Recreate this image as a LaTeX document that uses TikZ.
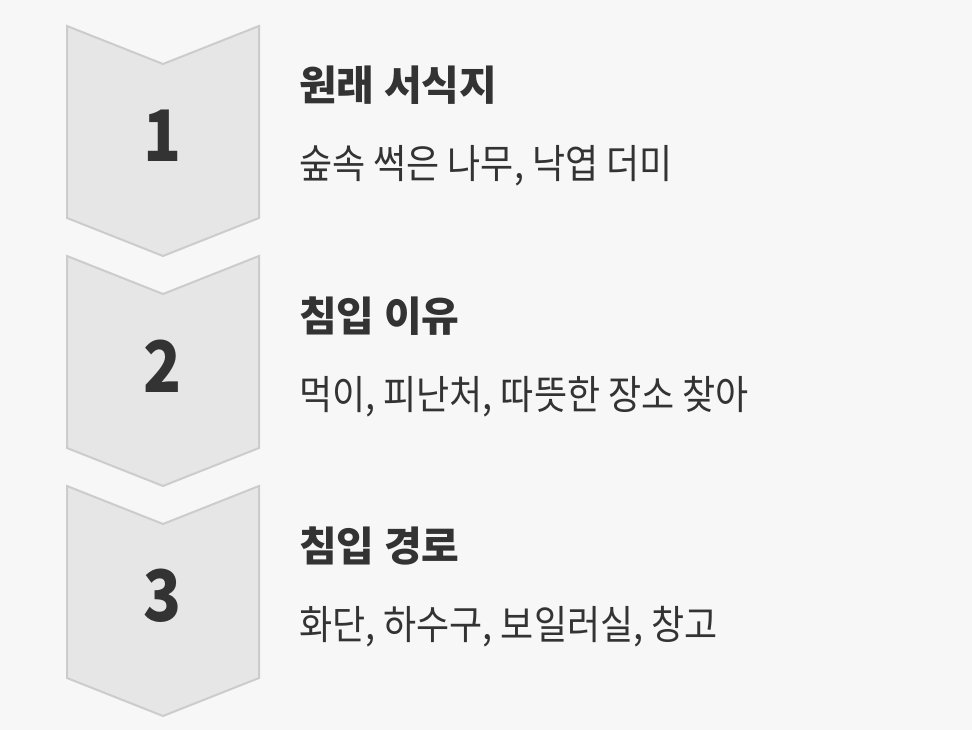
\documentclass[tikz,border=0pt]{standalone}
\usepackage{fontspec}
\setmainfont{Noto Sans CJK KR}
\IfFontExistsTF{Noto Sans CJK KR Black}{%
  \newfontfamily\titlefont{Noto Sans CJK KR Black}%
  \newfontfamily\numfont{Noto Sans CJK KR Black}[FakeStretch=0.88]%
}{%
  \newfontfamily\titlefont{Noto Sans CJK KR}[UprightFont=* Bold, FakeBold=3]%
  \newfontfamily\numfont{Noto Sans CJK KR}[UprightFont=* Bold, FakeBold=3, FakeStretch=0.88]%
}
\newfontfamily\subfont{Noto Sans CJK KR}[FakeStretch=0.90]
\definecolor{bgc}{HTML}{F7F7F7}
\definecolor{chevfill}{HTML}{E6E6E6}
\definecolor{chevline}{HTML}{CCCCCC}
\definecolor{txt}{HTML}{333333}
\tikzset{
  chev/.style={fill=chevfill, draw=chevline, line width=2pt, line join=miter},
  numtext/.style={text=txt, font=\fontsize{71}{71}\numfont, inner sep=0pt},
  titletext/.style={text=txt, font=\fontsize{41}{41}\titlefont, anchor=base west, inner sep=0pt},
  subtext/.style={text=txt, font=\fontsize{40}{40}\subfont, anchor=base west, inner sep=0pt}
}
\begin{document}
\begin{tikzpicture}[x=1pt,y=-1pt]
\fill[bgc] (0,0) rectangle (972,730);
\useasboundingbox (0,0) rectangle (972,730);
\foreach \i/\num/\tt/\st in {0/1/원래 서식지/{숲속 썩은 나무, 낙엽 더미},1/2/침입 이유/{먹이, 피난처, 따뜻한 장소 찾아},2/3/침입 경로/{화단, 하수구, 보일러실, 창고}}{
  \pgfmathsetmacro{\dy}{230*\i}
  \draw[chev] (67,26+\dy) -- (163,64+\dy) -- (259,26+\dy) -- (259,218+\dy) -- (163,256+\dy) -- (67,218+\dy) -- cycle;
  \node[numtext] (n\i) at (163,136+\dy) {\num};
  \node[titletext] (t\i) at (299,101+\dy) {\tt};
  \node[subtext] (s\i) at (299,179+\dy) {\st};
}
\end{tikzpicture}
\end{document}
